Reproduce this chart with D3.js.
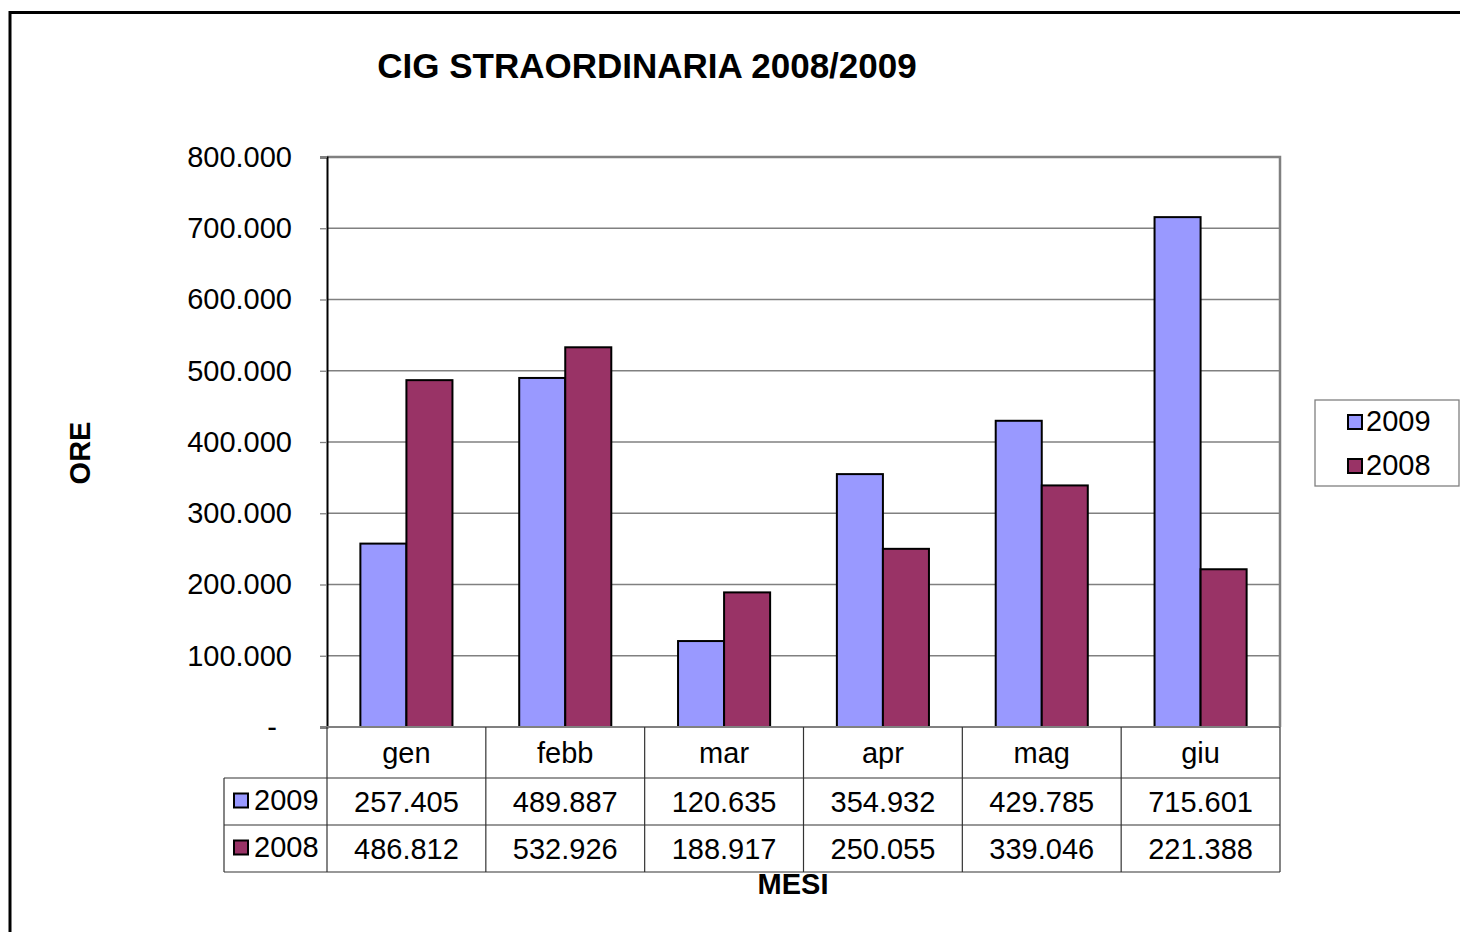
<!DOCTYPE html>
<html>
<head>
<meta charset="utf-8">
<script src="https://cdn.jsdelivr.net/npm/d3@7"></script>
<style>
  body { margin: 0; background: #fff; }
  text { font-family: "Liberation Sans", Arial, sans-serif; fill: #000; }
</style>
</head>
<body>
<div class="chart-wrapper"></div>
<script>
const months = ['gen', 'febb', 'mar', 'apr', 'mag', 'giu'];
const seriesNames = ['2009', '2008'];
const values2009 = [257405, 489887, 120635, 354932, 429785, 715601];
const values2008 = [486812, 532926, 188917, 250055, 339046, 221388];
const yTicks = [0, 100000, 200000, 300000, 400000, 500000, 600000, 700000, 800000];

function drawChart() {
    const dims = {
        width: 1460,
        height: 932,
        plot: { left: 327, right: 1280, top: 157, bottom: 727 },
        rowH: [51, 47, 47],
        tableLeft: 224,
    };

    const series = [
        { name: seriesNames[0], values: values2009, color: '#9999FF' },
        { name: seriesNames[1], values: values2008, color: '#993366' },
    ];

    const it = d3.formatLocale({ decimal: ',', thousands: '.', grouping: [3], currency: ['', ' €'] });
    const fmt = d => d === 0 ? '-' : it.format(',d')(d);

    const svg = d3.select('.chart-wrapper')
        .append('svg')
        .attr('width', dims.width)
        .attr('height', dims.height);

    // outer chart border
    svg.append('rect')
        .attr('x', 10).attr('y', 12.5)
        .attr('width', 1500).attr('height', 1000)
        .attr('fill', 'none').attr('stroke', '#000').attr('stroke-width', 3);

    const xScale = d3.scaleBand()
        .domain(months)
        .range([dims.plot.left, dims.plot.right]);

    const xInner = d3.scaleBand()
        .domain(seriesNames)
        .range([0, xScale.bandwidth()])
        .paddingOuter(0.725)
        .paddingInner(0);

    const yScale = d3.scaleLinear()
        .domain([0, 800000])
        .range([dims.plot.bottom, dims.plot.top]);

    // gridlines
    svg.append('g')
        .selectAll('line')
        .data(yTicks.filter(d => d > 0))
        .join('line')
        .attr('x1', dims.plot.left).attr('x2', dims.plot.right)
        .attr('y1', d => yScale(d)).attr('y2', d => yScale(d))
        .attr('stroke', '#808080').attr('stroke-width', 1.3);

    // plot area border (top/right)
    svg.append('path')
        .attr('d', `M${dims.plot.left},${dims.plot.top}H${dims.plot.right}V${dims.plot.bottom}`)
        .attr('fill', 'none').attr('stroke', '#808080').attr('stroke-width', 2.5);

    // bars
    series.forEach(s => {
        svg.append('g')
            .selectAll('rect')
            .data(months.map((m, i) => ({ month: m, value: s.values[i] })))
            .join('rect')
            .attr('x', d => xScale(d.month) + xInner(s.name))
            .attr('y', d => yScale(d.value))
            .attr('width', xInner.bandwidth())
            .attr('height', d => yScale(0) - yScale(d.value))
            .attr('fill', s.color)
            .attr('stroke', '#000').attr('stroke-width', 2);
    });

    // y axis
    const yAxis = d3.axisLeft(yScale)
        .tickValues(yTicks)
        .tickSize(7)
        .tickPadding(28)
        .tickFormat(fmt);

    const yg = svg.append('g')
        .attr('transform', `translate(${dims.plot.left}, 0)`)
        .call(yAxis);
    yg.select('.domain').attr('stroke', '#000').attr('stroke-width', 2);
    yg.selectAll('.tick line').attr('stroke', '#808080').attr('stroke-width', 1.3);
    yg.selectAll('.tick text')
        .attr('font-size', 29)
        .attr('font-family', '"Liberation Sans", Arial, sans-serif')
        .attr('fill', '#000');
    yg.selectAll('.tick text').filter(d => d === 0).attr('dx', -15);

    // data table
    const r0 = dims.plot.bottom;
    const r1 = r0 + dims.rowH[0];
    const r2 = r1 + dims.rowH[1];
    const r3 = r2 + dims.rowH[2];
    const table = svg.append('g');
    const lineColor = '#333';

    table.append('line')
        .attr('x1', dims.plot.left - 7).attr('x2', dims.plot.right)
        .attr('y1', r0).attr('y2', r0)
        .attr('stroke', '#808080').attr('stroke-width', 2);
    [r1, r2, r3].forEach(y => {
        table.append('line')
            .attr('x1', dims.tableLeft).attr('x2', dims.plot.right)
            .attr('y1', y).attr('y2', y)
            .attr('stroke', lineColor).attr('stroke-width', 1.2);
    });
    const bounds = months.map(m => xScale(m)).concat([dims.plot.right]);
    bounds.forEach(x => {
        table.append('line')
            .attr('x1', x).attr('x2', x)
            .attr('y1', r0).attr('y2', r3)
            .attr('stroke', lineColor).attr('stroke-width', 1.2);
    });
    table.append('line')
        .attr('x1', dims.tableLeft).attr('x2', dims.tableLeft)
        .attr('y1', r1).attr('y2', r3)
        .attr('stroke', lineColor).attr('stroke-width', 1.2);

    table.selectAll('.cat')
        .data(months)
        .join('text')
        .attr('class', 'cat')
        .attr('x', d => xScale(d) + xScale.bandwidth() / 2)
        .attr('y', (r0 + r1) / 2)
        .attr('dy', '0.35em')
        .attr('text-anchor', 'middle')
        .attr('font-size', 29)
        .text(d => d);

    const rowsY = [(r1 + r2) / 2, (r2 + r3) / 2];
    series.forEach((s, si) => {
        const y = rowsY[si];
        table.append('rect')
            .attr('x', 234).attr('y', y - 8)
            .attr('width', 14).attr('height', 14)
            .attr('fill', s.color).attr('stroke', '#000').attr('stroke-width', 2);
        table.append('text')
            .attr('x', 254).attr('y', y - 2)
            .attr('dy', '0.35em')
            .attr('font-size', 29)
            .text(s.name);
        table.selectAll(null)
            .data(s.values)
            .join('text')
            .attr('x', (d, i) => xScale(months[i]) + xScale.bandwidth() / 2)
            .attr('y', y)
            .attr('dy', '0.35em')
            .attr('text-anchor', 'middle')
            .attr('font-size', 29)
            .text(d => fmt(d));
    });

    // legend
    const legend = svg.append('g');
    legend.append('rect')
        .attr('x', 1315).attr('y', 400)
        .attr('width', 144).attr('height', 86)
        .attr('fill', '#fff').attr('stroke', '#808080').attr('stroke-width', 1.3);
    series.forEach((s, i) => {
        const y = 421 + i * 44;
        legend.append('rect')
            .attr('x', 1348).attr('y', y - 6)
            .attr('width', 14).attr('height', 14)
            .attr('fill', s.color).attr('stroke', '#000').attr('stroke-width', 2);
        legend.append('text')
            .attr('x', 1366).attr('y', y)
            .attr('dy', '0.35em')
            .attr('font-size', 29)
            .text(s.name);
    });

    // titles
    svg.append('text')
        .attr('x', 647).attr('y', 66)
        .attr('dy', '0.35em')
        .attr('text-anchor', 'middle')
        .attr('font-size', 35)
        .attr('font-weight', 'bold')
        .text('CIG STRAORDINARIA 2008/2009');

    svg.append('text')
        .attr('transform', 'translate(80, 453) rotate(-90)')
        .attr('dy', '0.35em')
        .attr('text-anchor', 'middle')
        .attr('font-size', 29)
        .attr('font-weight', 'bold')
        .text('ORE');

    svg.append('text')
        .attr('x', 793).attr('y', 884)
        .attr('dy', '0.35em')
        .attr('text-anchor', 'middle')
        .attr('font-size', 29)
        .attr('font-weight', 'bold')
        .text('MESI');
}

drawChart();
</script>
</body>
</html>
